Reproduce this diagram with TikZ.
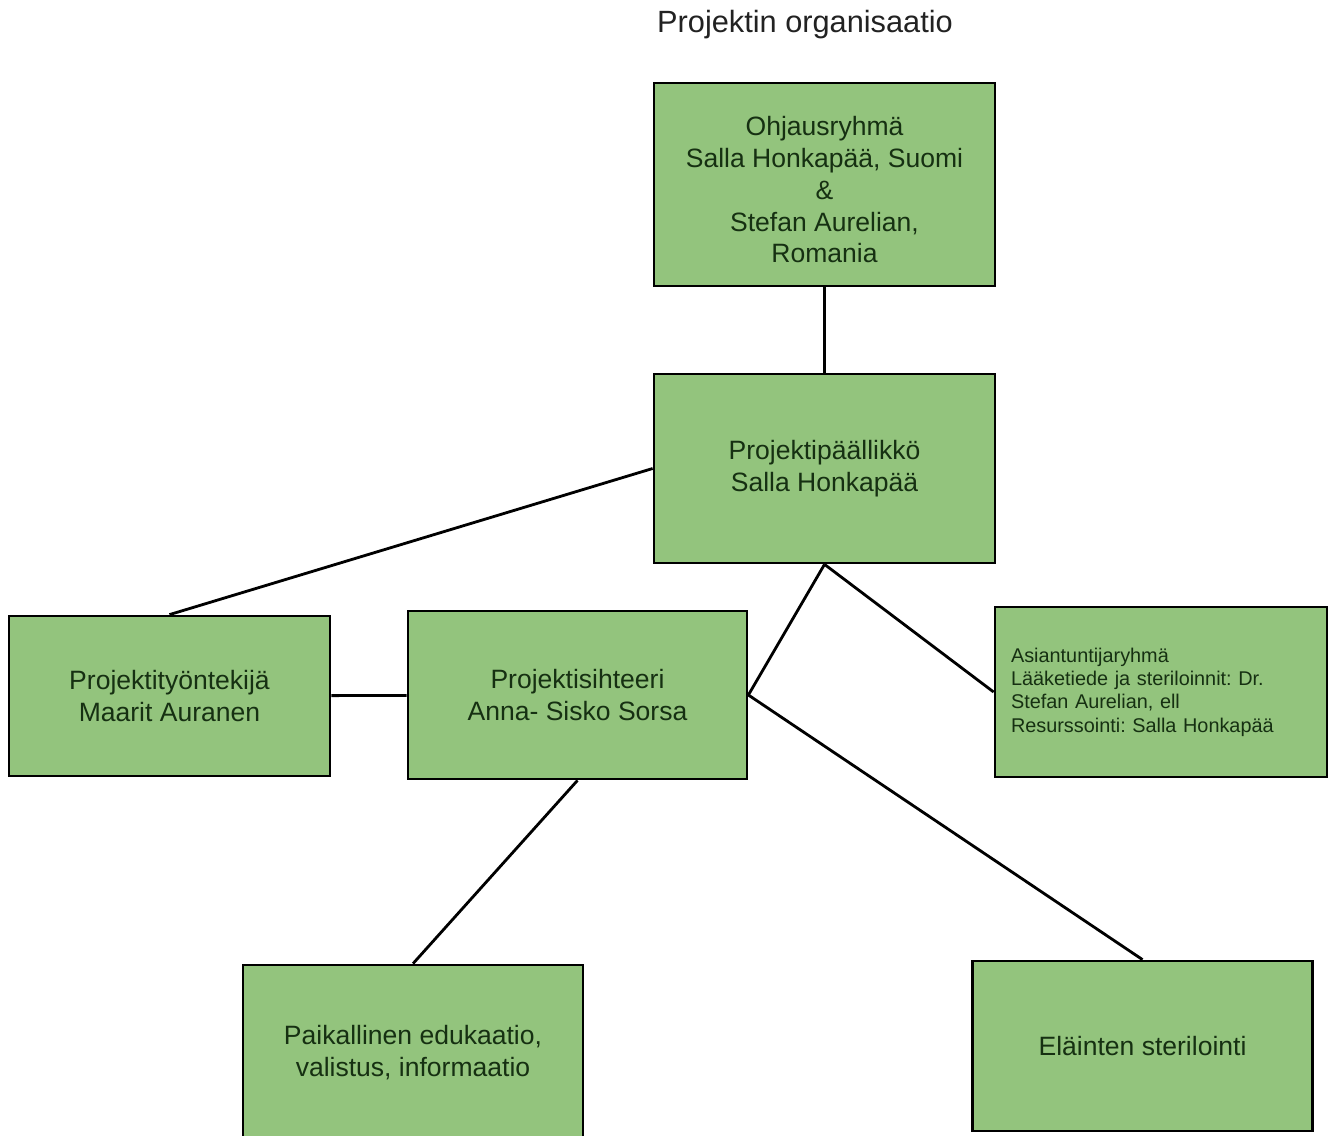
\documentclass[tikz,border=0pt]{standalone}
\usepackage{fontspec}
\setmainfont{Liberation Sans}
\usepackage{tikz}
\usetikzlibrary{positioning,calc,shapes}
\frenchspacing

\definecolor{boxgreen}{RGB}{147,196,125}
\definecolor{boxtext}{RGB}{22,48,18}
\definecolor{titlegray}{RGB}{34,34,34}

\tikzset{
	orgbox/.style={draw=black, line width=1.6pt, fill=boxgreen, text=boxtext, rectangle, inner sep=0pt, align=center, font=\fontsize{15.1}{18.1}\selectfont},
	orgline/.style={draw=black, line width=1.6pt}
}

\begin{document}
\begin{tikzpicture}[x=0.02cm, y=-0.02cm]
	\useasboundingbox (0,0) rectangle (1334,1135);
	\node [draw=none, text=titlegray, font=\fontsize{17.5}{21}\selectfont] (title) at (805, 25) {Projektin organisaatio};

	\node [orgbox, minimum width=6.82cm, minimum height=4.06cm] (ohjaus) at (824.5, 184.5) {\rule{0pt}{0.6cm}Ohjausryhmä\\Salla Honkapää, Suomi\\\&\\Stefan Aurelian,\\Romania};
	\node [orgbox, minimum width=6.82cm, minimum height=3.78cm] (paallikko) at (824.5, 468.5) {\rule{0pt}{0.38cm}Projektipäällikkö\\Salla Honkapää};
	\node [orgbox, minimum width=6.42cm, minimum height=3.2cm] (tyontekija) at (169.5, 696) {Projektityöntekijä\\Maarit Auranen};
	\node [orgbox, minimum width=6.78cm, minimum height=3.36cm] (sihteeri) at (577.5, 695) {Projektisihteeri\\Anna- Sisko Sorsa};
	\node [orgbox, minimum height=3.4cm, text width=6.0cm, inner xsep=0.32cm, align=left, font=\fontsize{11.3}{13.3}\selectfont] (asiantuntija) at (1161, 692) {Asiantuntijaryhmä\\Lääketiede ja steriloinnit: Dr.\\Stefan Aurelian, ell\\Resurssointi: Salla Honkapää};
	\node [orgbox, minimum width=6.8cm, minimum height=3.5cm] (paikallinen) at (413, 1052.5) {Paikallinen edukaatio,\\valistus, informaatio};
	\node [orgbox, minimum width=6.8cm, minimum height=3.4cm] (elainten) at (1142.5, 1046) {Eläinten sterilointi};

	\path [orgline] (ohjaus) -- (paallikko);
	\path [orgline] (paallikko.west) -- (tyontekija.north);
	\path [orgline] (paallikko.south) -- (sihteeri.east);
	\path [orgline] (paallikko.south) -- (asiantuntija.west);
	\path [orgline] (tyontekija) -- (sihteeri);
	\path [orgline] (sihteeri.south) -- (paikallinen.north);
	\path [orgline] (sihteeri.east) -- (elainten.north);

\end{tikzpicture}
\end{document}
